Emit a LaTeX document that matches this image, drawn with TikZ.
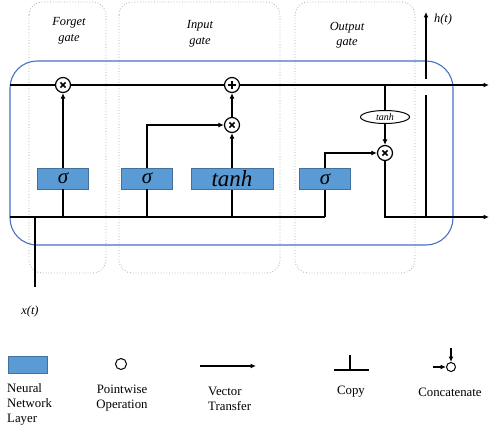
\documentclass[tikz,border=0pt]{standalone}
\usepackage{fontspec}
\setmainfont{Liberation Serif}
\usetikzlibrary{arrows.meta,calc,shapes.geometric}

\definecolor{layerblue}{HTML}{5B9BD5}
\definecolor{layerborder}{HTML}{41719C}
\definecolor{cellblue}{HTML}{4472C4}
\definecolor{gatefrm}{HTML}{ABABAB}

\begin{document}
\begin{tikzpicture}[x=1pt,y=-1pt,
  wire/.style={line width=1.25pt, black},
  flow/.style={wire, -{Latex[length=5.5pt,width=5pt]}},
  layer/.style={draw=layerborder, fill=layerblue, line width=0.6pt,
    minimum height=21pt, inner sep=0pt,
    font=\itshape\fontsize{21}{21}\selectfont},
  gatebox/.style={draw=gatefrm, dotted, line width=0.8pt, rounded corners=13pt},
  cellbox/.style={draw=cellblue, line width=1.1pt, rounded corners=27pt},
  op/.style={circle, draw, line width=1.2pt, minimum size=15pt, inner sep=0pt, fill=white},
  mult/.style={op, path picture={
      \draw[line width=1.6pt] (path picture bounding box.center) ++(-2.6,-2.6) -- ++(5.2,5.2)
        ++(0,-5.2) -- ++(-5.2,5.2);}},
  plus/.style={op, path picture={
      \draw[line width=1.6pt] (path picture bounding box.center) ++(-3.6,0) -- ++(7.2,0)
        ++(-3.6,-3.6) -- ++(0,7.2);}},
  gatelabel/.style={font=\itshape\fontsize{12.4}{15.5}\selectfont, align=center},
  lbl/.style={font=\itshape\fontsize{12.4}{13}\selectfont},
  legendtext/.style={font=\fontsize{12.8}{15}\selectfont, align=center}
]
\useasboundingbox (0,0) rectangle (489,425);

% gate regions
\draw[gatebox] (29,2) rectangle (106,273);
\draw[gatebox] (119,2) rectangle (280,273);
\draw[gatebox] (295,2) rectangle (415,273);
\node[gatelabel] (tforget) at (69,31) {Forget\\gate};
\node[gatelabel] (tinput) at (200,34) {Input\\gate};
\node[gatelabel] (toutput) at (347,35) {Output\\gate};

% cell frame
\draw[cellbox] (10,61) rectangle (453,245);

% pointwise operations
\node[mult] (fmul) at (63,85) {};
\node[plus] (add) at (232,85) {};
\node[mult] (imul) at (232,125) {};
\node[mult] (omul) at (385,153) {};
\node[ellipse, draw, line width=1pt, minimum width=49pt, minimum height=13pt, inner sep=0pt,
  font=\itshape\fontsize{10}{10}\selectfont, fill=white] (otanh) at (385,117) {tanh};

% neural network layers
\node[layer, minimum width=51pt] (fsig) at (63,178.5) {σ};
\node[layer, minimum width=51pt] (isig) at (147,178.5) {σ};
\node[layer, minimum width=82pt, font=\itshape\fontsize{23}{23}\selectfont] (gtanh) at (232,179) {tanh};
\node[layer, minimum width=51pt] (osig) at (325,179) {σ};

% terminals and junctions
\coordinate (cin) at (10,85);
\coordinate (cout) at (489,85);
\coordinate (hin) at (10,217);
\coordinate (hout) at (489,217);
\coordinate (xin) at (35,287);
\coordinate (xj) at (35,217);
\coordinate (fj) at (63,217);
\coordinate (ij) at (147,217);
\coordinate (gj) at (232,217);
\coordinate (oj) at (325,217);
\coordinate (cj) at (385,85);
\coordinate (hj) at (426,217);
\coordinate (hgapb) at (426,95);
\coordinate (hgapt) at (426,79);
\coordinate (htop) at (426,12);

% cell state
\draw[wire] (cin) -- (fmul.west);
\draw[wire] (fmul.east) -- (add.west);
\draw[flow] (add.east) -- (cout);

% previous hidden state and input
\draw[wire] (hin) -- (oj);
\draw[wire] (xin) -- (xj);

% forget gate
\draw[wire] (fj) -- (fsig.south);
\draw[flow] (fsig.north) -- (fmul.south);

% input gate
\draw[wire] (ij) -- (isig.south);
\draw[flow] (isig.north) |- (imul.west);
\draw[wire] (gj) -- (gtanh.south);
\draw[flow] (gtanh.north) -- (imul.south);
\draw[flow] (imul.north) -- (add.south);

% output gate
\draw[wire] (oj) -- (osig.south);
\draw[flow] (osig.north) |- (omul.west);
\draw[wire] (cj) -- (otanh.north);
\draw[flow] (otanh.south) -- (omul.north);
\draw[flow] (omul.south) |- (hout);

% hidden state output, hopping over the cell state
\draw[wire] (hj) -- (hgapb);
\draw[flow] (hgapt) -- (htop);

\node[lbl] (hlabel) at (443,20) {h(t)};
\node[lbl] (xlabel) at (30,312) {x(t)};

% legend
\node[draw=layerborder, fill=layerblue, line width=0.6pt, minimum width=39pt, minimum height=17pt,
  inner sep=0pt] (lglayer) at (27.5,364.5) {};
\node[legendtext, align=left, anchor=west, inner sep=0pt] (lglayert) at (7,404)
  {Neural\\Network\\Layer};

\node[circle, draw, line width=1pt, minimum size=11pt, inner sep=0pt] (lgop) at (121,364) {};
\node[legendtext] (lgopt) at (122,398) {Pointwise\\Operation};

\coordinate (lgva) at (200,366);
\coordinate (lgvb) at (256,366);
\draw[flow] (lgva) -- (lgvb);
\node[legendtext, align=left, anchor=west, inner sep=0pt] (lgvt) at (208,398.5) {Vector\\Transfer};

\coordinate (lgct) at (350,355);
\coordinate (lgcb) at (350,370);
\coordinate (lgcl) at (334,370);
\coordinate (lgcr) at (369,370);
\draw[wire] (lgct) -- (lgcb);
\draw[wire] (lgcl) -- (lgcr);
\node[legendtext] (lgct2) at (351,392) {Copy};

\node[circle, draw, line width=1pt, minimum size=9pt, inner sep=0pt] (lgcc) at (451,367) {};
\coordinate (lgccl) at (433,367);
\coordinate (lgcct) at (451,348);
\draw[flow] (lgccl) -- (lgcc.west);
\draw[flow] (lgcct) -- (lgcc.north);
\node[legendtext] (lgcctt) at (450,392) {Concatenate};

\end{tikzpicture}
\end{document}
